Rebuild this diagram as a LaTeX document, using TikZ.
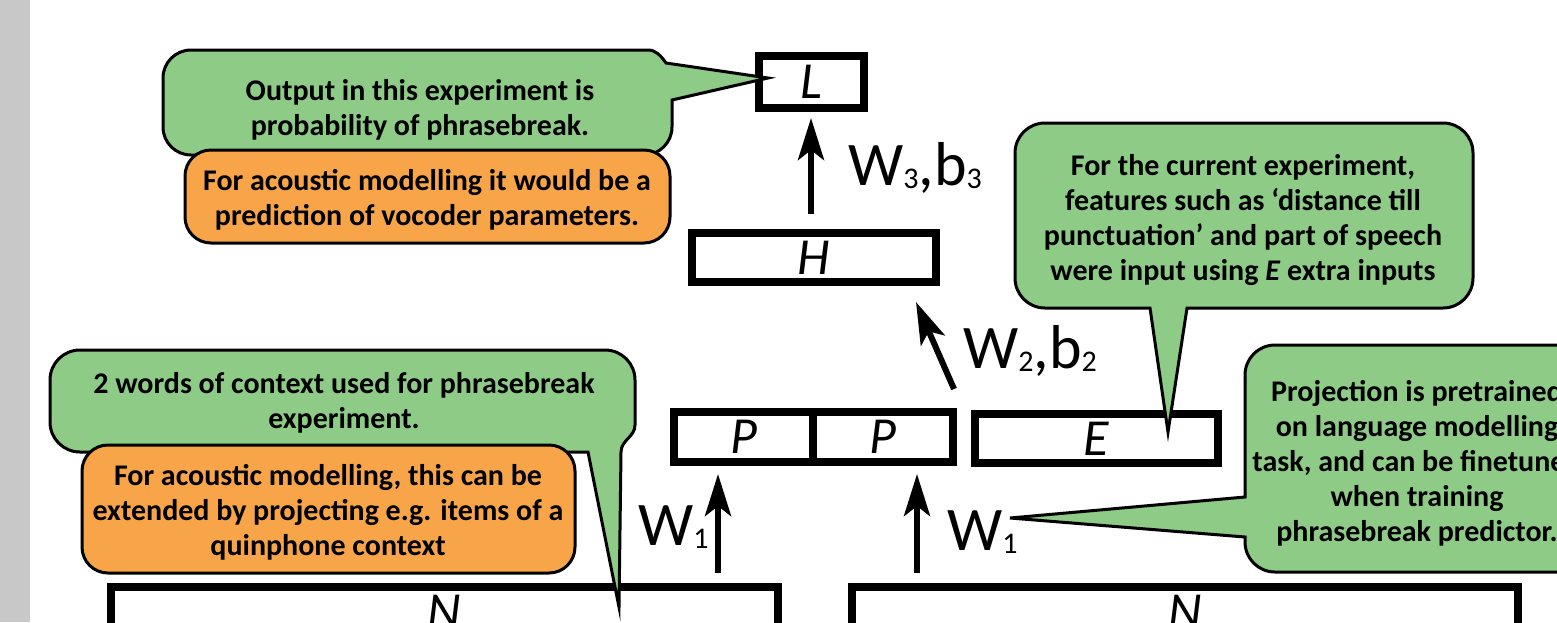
\documentclass[tikz,border=0pt]{standalone}
\usepackage{fontspec}
\setmainfont{Carlito}
\usetikzlibrary{arrows.meta,calc}
\definecolor{cgreen}{RGB}{141,203,134}
\definecolor{corange}{RGB}{247,165,72}
\definecolor{cstrip}{RGB}{200,200,200}
\newcommand{\ctfont}{\fontsize{30}{35}\selectfont\bfseries}
\newcommand{\boxfont}{\fontsize{52}{52}\selectfont\itshape}
\newcommand{\labfont}{\fontsize{62}{62}\selectfont}
\newcommand{\lsub}[1]{{\fontsize{30}{30}\selectfont\raisebox{-3pt}{#1}}}
\begin{document}
\begin{tikzpicture}[x=1pt,y=-1pt,
  box/.style={draw, line width=8pt, inner sep=0pt, font=\boxfont},
  arr/.style={line width=6pt, -{Stealth[length=42pt,width=26pt,inset=10pt]}},
  callG/.style={draw=black, line width=3pt, fill=cgreen},
  callO/.style={draw=black, line width=3pt, fill=corange, rounded corners=26pt},
  ctext/.style={align=center, font=\ctfont, inner sep=0pt},
  lab/.style={font=\labfont, anchor=base west, inner sep=0pt}]
\useasboundingbox (0,0) rectangle (1557,622);
\clip (0,0) rectangle (1557,622);
\fill[white] (0,0) rectangle (1557,622);
\fill[cstrip] (0,0) rectangle (30,622);

% network boxes
\node[box, minimum width=105pt, minimum height=52pt] (L) at (811,82) {L};
\node[box, minimum width=244pt, minimum height=49pt] (H) at (814,257.5) {H};
\node[box, minimum width=139pt, minimum height=50pt] (P1) at (743.5,437) {P};
\node[box, minimum width=140pt, minimum height=50pt] (P2) at (883,437) {P};
\node[box, minimum width=243pt, minimum height=49pt] (E) at (1096.5,438.5) {E};
\node[box, minimum width=667pt, minimum height=50pt] (N1) at (444.5,612) {N};
\node[box, minimum width=666pt, minimum height=50pt] (N2) at (1185,612) {N};

% connectors
\coordinate (a1) at (718,0);
\coordinate (a2) at (917,0);
\draw[arr, shorten <=15pt, shorten >=6pt] (H.north -| L.south) -- (L.south);
\draw[arr] ($(P2.north east)+(-3,-19)$) -- ($(H.south east)+(-24,16)$);
\draw[arr, shorten <=10pt, shorten >=8pt] (N1.north -| a1) -- (P1.south -| a1);
\draw[arr, shorten <=10pt, shorten >=8pt] (N2.north -| a2) -- (P2.south -| a2);

% weight labels
\node[lab] (w3) at (848,185) {W\lsub{3},b\lsub{3}};
\node[lab] (w2) at (963,368) {W\lsub{2},b\lsub{2}};
\node[lab] (w1a) at (638,545) {W\lsub{1}};
\node[lab] (w1b) at (947,550) {W\lsub{1}};

% callouts
\path[callG] (163,78) .. controls (163,62.5) and (175.5,50) .. (191,50) -- (648,50)
  .. controls (656,50) and (661,56) .. (666,63) -- (768,78) -- (672,100) -- (672,127)
  .. controls (672,142.5) and (659.5,155) .. (644,155) -- (191,155)
  .. controls (175.5,155) and (163,142.5) .. (163,127) -- cycle;
\draw[callO] (185,150) rectangle (670,243);

\path[callG] (1015,153) .. controls (1015,136.4) and (1028.4,123) .. (1045,123) -- (1443,123)
  .. controls (1459.6,123) and (1473,136.4) .. (1473,153) -- (1473,278)
  .. controls (1473,294.6) and (1459.6,308) .. (1443,308) -- (1187,308) -- (1168,432) -- (1150,308)
  -- (1045,308) .. controls (1028.4,308) and (1015,294.6) .. (1015,278) -- cycle;

\path[callG] (50,380) .. controls (50,363.4) and (63.4,350) .. (80,350) -- (605,350)
  .. controls (621.6,350) and (635,363.4) .. (635,380) -- (635,425)
  .. controls (635,437) and (621,440) .. (621,452) -- (619,607) -- (588,452) -- (80,452)
  .. controls (63.4,452) and (50,438.6) .. (50,422) -- cycle;
\draw[callO] (82,445) rectangle (575,573);

\path[callG] (1245,375) .. controls (1245,358.4) and (1258.4,345) .. (1275,345) -- (1620,345)
  -- (1620,572) -- (1275,572) .. controls (1258.4,572) and (1245,558.6) .. (1245,542)
  -- (1245,537) -- (1010,518) -- (1245,497) -- cycle;

% callout texts
\node[ctext] (t1) at (420,110) {Output in this experiment is\\probability of phrasebreak.};
\node[ctext] (t2) at (427,200) {For acoustic modelling it would be a\\prediction of vocoder parameters.};
\node[ctext] (t3) at (1243,220) {For the current experiment,\\features such as ‘distance till\\punctuation’ and part of speech\\were input using \textit{E} extra inputs};
\node[ctext] (t4) at (344,403) {2 words of context used for phrasebreak\\experiment.};
\node[ctext] (t5) at (328,512) {For acoustic modelling, this can be\\extended by projecting e.g. items of a\\quinphone context};
\node[ctext] (t6) at (1417,463) {Projection is pretrained\\on language modelling\\task, and can be finetuned\\when training\\phrasebreak predictor.};
\end{tikzpicture}
\end{document}
